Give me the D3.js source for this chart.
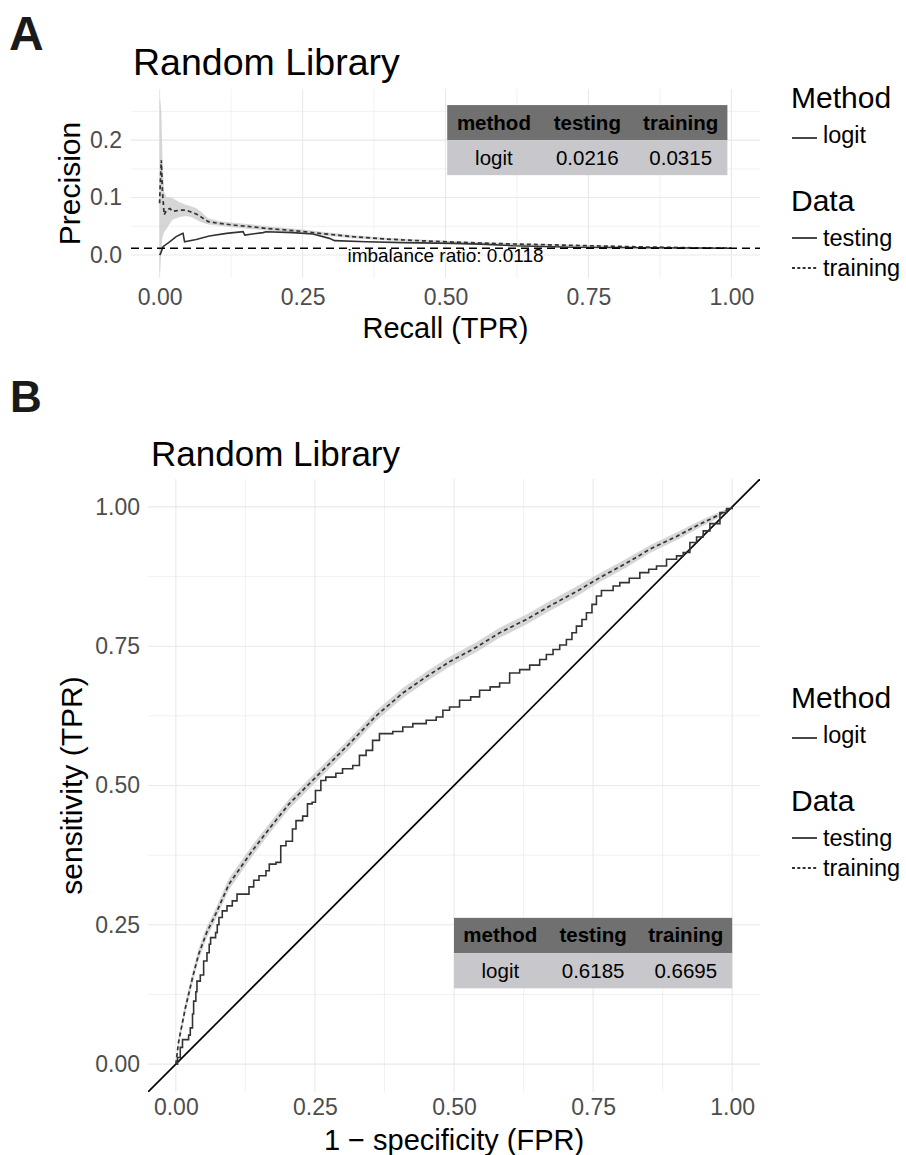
<!DOCTYPE html>
<html>
<head>
<meta charset="utf-8">
<title>Random Library - PR and ROC</title>
<style>
body { margin: 0; background: #fff; }
svg text { font-family: "Liberation Sans", Arial, Helvetica, sans-serif; }
.grid-major { stroke: #e9e9e9; stroke-width: 1.1px; }
.grid-minor { stroke: #eeeeee; stroke-width: 0.8px; }
</style>
</head>
<body>
<svg width="906" height="1155"></svg>
<script src="https://cdn.jsdelivr.net/npm/d3@7"></script>
<script>
// ---------- data ----------
var xTicks = [0, 0.25, 0.5, 0.75, 1];
var xMinor = [0.125, 0.375, 0.625, 0.875];
var prYTicks = [0, 0.1, 0.2];
var prYMinor = [0.05, 0.15, 0.25];
var rocYTicks = [0, 0.25, 0.5, 0.75, 1];
var rocYMinor = [0.125, 0.375, 0.625, 0.875];

var imbalanceRatio = 0.0118;

// precision-recall, training (dashed + ribbon)
var prTrainRecall = [0, 0.001, 0.003, 0.005, 0.008, 0.012, 0.018, 0.023, 0.035, 0.047, 0.055, 0.065, 0.073, 0.085, 0.105, 0.13, 0.163, 0.19, 0.222, 0.25, 0.28, 0.338, 0.396, 0.455, 0.513, 0.606, 0.723, 0.839, 0.92, 1.0];
var prTrainPrec = [0.09, 0.12, 0.165, 0.11, 0.07, 0.078, 0.081, 0.076, 0.078, 0.078, 0.075, 0.071, 0.066, 0.058, 0.055, 0.052, 0.049, 0.046, 0.0435, 0.041, 0.0377, 0.0319, 0.0278, 0.0249, 0.0226, 0.0195, 0.0168, 0.0142, 0.0128, 0.0118];
var prTrainLo = [-0.03, -0.03, 0.01, 0.03, 0.04, 0.045, 0.055, 0.062, 0.066, 0.068, 0.066, 0.061, 0.057, 0.053, 0.051, 0.048, 0.045, 0.0425, 0.040, 0.0375, 0.0345, 0.0292, 0.0255, 0.0229, 0.0209, 0.0181, 0.0157, 0.0134, 0.0122, 0.0114];
var prTrainHi = [0.27, 0.272, 0.25, 0.17, 0.11, 0.101, 0.1, 0.099, 0.092, 0.087, 0.085, 0.081, 0.075, 0.064, 0.059, 0.056, 0.053, 0.0495, 0.047, 0.0445, 0.041, 0.0346, 0.0301, 0.0269, 0.0243, 0.0209, 0.0179, 0.015, 0.0134, 0.0122];

// precision-recall, testing (solid)
var prTestRecall = [0, 0.002, 0.006, 0.0175, 0.029, 0.038, 0.041, 0.0437, 0.064, 0.087, 0.117, 0.146, 0.149, 0.181, 0.186, 0.233, 0.268, 0.297, 0.306, 0.361, 0.425, 0.513, 0.56, 0.618, 0.723, 0.85, 1.0];
var prTestPrec = [0, 0.003, 0.0145, 0.023, 0.032, 0.0365, 0.0377, 0.023, 0.027, 0.033, 0.0377, 0.0406, 0.0348, 0.039, 0.0406, 0.039, 0.0365, 0.029, 0.025, 0.023, 0.0216, 0.0203, 0.019, 0.0162, 0.0135, 0.0127, 0.0118];

// ROC, training (dashed + ribbon)
var rocTrainFpr = [0, 0.005, 0.017, 0.03, 0.041, 0.055, 0.0715, 0.0955, 0.1375, 0.17, 0.2036, 0.2577, 0.312, 0.36, 0.408, 0.45, 0.492, 0.54, 0.582, 0.63, 0.672, 0.72, 0.762, 0.81, 0.852, 0.9, 0.942, 0.975, 1];
var rocTrainTpr = [0, 0.04, 0.10, 0.155, 0.197, 0.235, 0.269, 0.323, 0.383, 0.425, 0.467, 0.521, 0.575, 0.625, 0.666, 0.695, 0.722, 0.748, 0.774, 0.798, 0.822, 0.848, 0.873, 0.899, 0.924, 0.947, 0.969, 0.985, 1];
var rocTrainLo = [0, 0.032, 0.09, 0.145, 0.187, 0.225, 0.259, 0.313, 0.373, 0.416, 0.458, 0.512, 0.566, 0.616, 0.657, 0.686, 0.713, 0.739, 0.765, 0.789, 0.813, 0.839, 0.865, 0.891, 0.917, 0.94, 0.963, 0.98, 1];
var rocTrainHi = [0, 0.048, 0.11, 0.165, 0.207, 0.245, 0.279, 0.333, 0.393, 0.434, 0.476, 0.530, 0.584, 0.634, 0.675, 0.704, 0.731, 0.757, 0.783, 0.807, 0.831, 0.857, 0.881, 0.907, 0.931, 0.954, 0.975, 0.99, 1];

// ROC, testing (solid staircase)
var rocTestFpr = [0, 0.003, 0.008, 0.012, 0.023, 0.026, 0.030, 0.032, 0.036, 0.038,
  0.044, 0.05, 0.056, 0.060, 0.0625, 0.0715, 0.0745, 0.0775, 0.0835, 0.092,
  0.1015, 0.11, 0.1315, 0.14, 0.1495, 0.162, 0.168, 0.18, 0.1886, 0.198,
  0.2096, 0.216, 0.228, 0.2366, 0.245, 0.251, 0.2607, 0.2696, 0.2877, 0.2997,
  0.318, 0.330, 0.342, 0.3537, 0.366, 0.39, 0.408, 0.426, 0.45, 0.468,
  0.48, 0.492, 0.51, 0.53, 0.546, 0.565, 0.582, 0.60, 0.618, 0.636,
  0.654, 0.666, 0.678, 0.69, 0.702, 0.712, 0.72, 0.73, 0.738, 0.748,
  0.756, 0.765, 0.786, 0.798, 0.815, 0.834, 0.85, 0.864, 0.882, 0.90,
  0.912, 0.924, 0.936, 0.948, 0.96, 0.978, 0.99, 1];
var rocTestTpr = [0, 0.012, 0.03, 0.044, 0.052, 0.065, 0.09, 0.113, 0.13, 0.149,
  0.16, 0.185, 0.2, 0.215, 0.227, 0.236, 0.25, 0.263, 0.275, 0.284,
  0.293, 0.305, 0.318, 0.33, 0.338, 0.347, 0.359, 0.362, 0.392, 0.40,
  0.422, 0.437, 0.445, 0.467, 0.47, 0.491, 0.509, 0.515, 0.522, 0.530,
  0.536, 0.554, 0.563, 0.581, 0.593, 0.597, 0.605, 0.611, 0.617, 0.623,
  0.635, 0.641, 0.653, 0.659, 0.671, 0.677, 0.684, 0.702, 0.708, 0.716,
  0.726, 0.735, 0.744, 0.752, 0.762, 0.774, 0.786, 0.798, 0.81, 0.825,
  0.84, 0.85, 0.858, 0.864, 0.872, 0.882, 0.888, 0.894, 0.906, 0.912,
  0.918, 0.936, 0.946, 0.957, 0.97, 0.99, 0.997, 1];

var tableHeader = ["method", "testing", "training"];
var prTableRow = ["logit", "0.0216", "0.0315"];
var rocTableRow = ["logit", "0.6185", "0.6695"];

var methodLabels = ["logit"];
var dataLabels = ["testing", "training"];

// ---------- helpers ----------
var svg = d3.select("svg");
var FONT = '"Liberation Sans", Arial, Helvetica, sans-serif';
var LINE = "#333333";

svg.append("rect").attr("width", 906).attr("height", 1155).attr("fill", "#fff");

function pts(xs, ys) {
  return xs.map(function(d, i) { return {x: d, y: ys[i]}; });
}
function band(xs, lo, hi) {
  return xs.map(function(d, i) { return {x: d, lo: lo[i], hi: hi[i]}; });
}

function drawPanel(p) {
  var x = d3.scaleLinear().domain(p.xDomain).range([p.left, p.right]);
  var y = d3.scaleLinear().domain(p.yDomain).range([p.bottom, p.top]);

  svg.append("clipPath").attr("id", p.id + "-clip")
    .append("rect")
    .attr("x", p.left).attr("y", p.top)
    .attr("width", p.right - p.left).attr("height", p.bottom - p.top);

  var grid = svg.append("g");
  grid.selectAll(".vmin").data(xMinor).enter().append("line")
    .attr("class", "grid-minor")
    .attr("x1", x).attr("x2", x).attr("y1", p.top).attr("y2", p.bottom);
  grid.selectAll(".hmin").data(p.yMinor).enter().append("line")
    .attr("class", "grid-minor")
    .attr("y1", y).attr("y2", y).attr("x1", p.left).attr("x2", p.right);
  grid.selectAll(".vmaj").data(xTicks).enter().append("line")
    .attr("class", "grid-major")
    .attr("x1", x).attr("x2", x).attr("y1", p.top).attr("y2", p.bottom);
  grid.selectAll(".hmaj").data(p.yTicks).enter().append("line")
    .attr("class", "grid-major")
    .attr("y1", y).attr("y2", y).attr("x1", p.left).attr("x2", p.right);

  // axes (no domain line, no ticks, like theme_minimal)
  var xa = svg.append("g")
    .attr("transform", "translate(0," + p.bottom + ")")
    .call(d3.axisBottom(x).tickValues(xTicks).tickSize(0).tickPadding(p.xPad)
      .tickFormat(d3.format(".2f")));
  var ya = svg.append("g")
    .attr("transform", "translate(" + p.left + ",0)")
    .call(d3.axisLeft(y).tickValues(p.yTicks).tickSize(0).tickPadding(p.yPad)
      .tickFormat(d3.format(p.yFormat)));
  [xa, ya].forEach(function(a) {
    a.select(".domain").remove();
    a.attr("font-family", FONT).attr("font-size", 23);
    a.selectAll("text").attr("fill", "#4d4d4d");
  });

  // titles
  svg.append("text").attr("x", p.tagX).attr("y", p.tagY)
    .attr("font-size", p.tagSize).attr("font-weight", "bold").attr("fill", "#1a1a1a")
    .text(p.tag);
  svg.append("text").attr("x", p.titleX).attr("y", p.titleY)
    .attr("font-size", p.titleSize).attr("fill", "#000")
    .text(p.title);
  svg.append("text")
    .attr("x", (p.left + p.right) / 2).attr("y", p.xTitleY)
    .attr("text-anchor", "middle").attr("font-size", 29).attr("fill", "#000")
    .text(p.xTitle);
  svg.append("text")
    .attr("transform", "translate(" + p.yTitleX + "," + (p.top + p.bottom) / 2 + ") rotate(-90)")
    .attr("text-anchor", "middle").attr("font-size", 30).attr("fill", "#000")
    .text(p.yTitle);

  var plot = svg.append("g").attr("clip-path", "url(#" + p.id + "-clip)");
  return {x: x, y: y, plot: plot};
}

function drawCurves(panel, trainBand, trainLine, testLine, testCurve) {
  var x = panel.x, y = panel.y, g = panel.plot;
  g.append("path").datum(trainBand)
    .attr("fill", "#c8c8c8").attr("fill-opacity", 0.75)
    .attr("d", d3.area().x(function(d) { return x(d.x); })
      .y0(function(d) { return y(d.lo); }).y1(function(d) { return y(d.hi); }));
  g.append("path").datum(testLine)
    .attr("fill", "none").attr("stroke", LINE).attr("stroke-width", 1.6)
    .attr("d", d3.line().curve(testCurve)
      .x(function(d) { return x(d.x); }).y(function(d) { return y(d.y); }));
  g.append("path").datum(trainLine)
    .attr("fill", "none").attr("stroke", LINE).attr("stroke-width", 1.7)
    .attr("stroke-dasharray", "4,3")
    .attr("d", d3.line()
      .x(function(d) { return x(d.x); }).y(function(d) { return y(d.y); }));
}

function drawTable(panel, box, row) {
  var x0 = panel.x(box.x0), x1 = panel.x(box.x1);
  var yTop = panel.y(box.yTop), yBot = panel.y(box.yBot);
  var rowH = (yBot - yTop) / 2, colW = (x1 - x0) / 3;
  var t = svg.append("g").attr("font-size", 20.5).attr("text-anchor", "middle");
  t.append("rect").attr("x", x0).attr("y", yTop).attr("width", x1 - x0).attr("height", rowH)
    .attr("fill", "#707070");
  t.append("rect").attr("x", x0).attr("y", yTop + rowH).attr("width", x1 - x0).attr("height", rowH)
    .attr("fill", "#c8c8cc");
  t.selectAll(".hd").data(tableHeader).enter().append("text")
    .attr("x", function(d, i) { return x0 + colW * (i + 0.5); })
    .attr("y", yTop + rowH / 2 + 7).attr("font-weight", "bold").attr("fill", "#000")
    .text(function(d) { return d; });
  t.selectAll(".bd").data(row).enter().append("text")
    .attr("x", function(d, i) { return x0 + colW * (i + 0.5); })
    .attr("y", yTop + rowH * 1.5 + 7).attr("fill", "#000")
    .text(function(d) { return d; });
}

function drawLegend(top) {
  var L = svg.append("g").attr("fill", "#000");
  L.append("text").attr("x", 791).attr("y", top).attr("font-size", 30).text("Method");
  methodLabels.forEach(function(m, i) {
    var yy = top + 35 + i * 30;
    L.append("line").attr("x1", 792).attr("x2", 817).attr("y1", yy - 5).attr("y2", yy - 5)
      .attr("stroke", LINE).attr("stroke-width", 1.8);
    L.append("text").attr("x", 823).attr("y", yy).attr("font-size", 23.5).text(m);
  });
  L.append("text").attr("x", 791).attr("y", top + 103).attr("font-size", 30).text("Data");
  dataLabels.forEach(function(m, i) {
    var yy = top + 138 + i * 30;
    L.append("line").attr("x1", 792).attr("x2", 817).attr("y1", yy - 8).attr("y2", yy - 8)
      .attr("stroke", LINE).attr("stroke-width", 1.8)
      .attr("stroke-dasharray", i === 1 ? "3,2.3" : null);
    L.append("text").attr("x", 823).attr("y", yy).attr("font-size", 23.5).text(m);
  });
}

// ---------- panel A : precision-recall ----------
var A = drawPanel({
  id: "pr", left: 131, right: 760, top: 89, bottom: 278,
  xDomain: [-0.05, 1.05], yDomain: [-0.04, 0.289],
  yTicks: prYTicks, yMinor: prYMinor, yFormat: ".1f",
  xPad: 11, yPad: 9,
  tag: "A", tagX: 9, tagY: 50, tagSize: 48,
  title: "Random Library", titleX: 133, titleY: 75, titleSize: 37.5,
  xTitle: "Recall (TPR)", xTitleY: 338,
  yTitle: "Precision", yTitleX: 80
});
drawCurves(A, band(prTrainRecall, prTrainLo, prTrainHi),
  pts(prTrainRecall, prTrainPrec), pts(prTestRecall, prTestPrec), d3.curveLinear);

A.plot.append("line")
  .attr("x1", A.x.range()[0]).attr("x2", A.x.range()[1])
  .attr("y1", A.y(imbalanceRatio)).attr("y2", A.y(imbalanceRatio))
  .attr("stroke", "#000").attr("stroke-width", 1.4).attr("stroke-dasharray", "8,5");
svg.append("text")
  .attr("x", A.x(0.5)).attr("y", A.y(imbalanceRatio) + 14)
  .attr("text-anchor", "middle").attr("font-size", 19).attr("fill", "#000")
  .text("imbalance ratio: " + imbalanceRatio);
drawTable(A, {x0: 0.503, x1: 0.993, yTop: 0.261, yBot: 0.139}, prTableRow);
drawLegend(108);

// ---------- panel B : ROC ----------
var B = drawPanel({
  id: "roc", left: 148, right: 760, top: 479, bottom: 1092,
  xDomain: [-0.05, 1.05], yDomain: [-0.05, 1.05],
  yTicks: rocYTicks, yMinor: rocYMinor, yFormat: ".2f",
  xPad: 7, yPad: 8,
  tag: "B", tagX: 10, tagY: 412, tagSize: 44,
  title: "Random Library", titleX: 151, titleY: 466, titleSize: 35,
  xTitle: "1 \u2212 specificity (FPR)", xTitleY: 1150,
  yTitle: "sensitivity (TPR)", yTitleX: 82
});
B.plot.append("line")
  .attr("x1", B.x(-0.05)).attr("y1", B.y(-0.05))
  .attr("x2", B.x(1.05)).attr("y2", B.y(1.05))
  .attr("stroke", "#000").attr("stroke-width", 1.7);
drawCurves(B, band(rocTrainFpr, rocTrainLo, rocTrainHi),
  pts(rocTrainFpr, rocTrainTpr), pts(rocTestFpr, rocTestTpr), d3.curveStepAfter);
drawTable(B, {x0: 0.5, x1: 1.0, yTop: 0.2625, yBot: 0.136}, rocTableRow);
drawLegend(708);
</script>
</body>
</html>
